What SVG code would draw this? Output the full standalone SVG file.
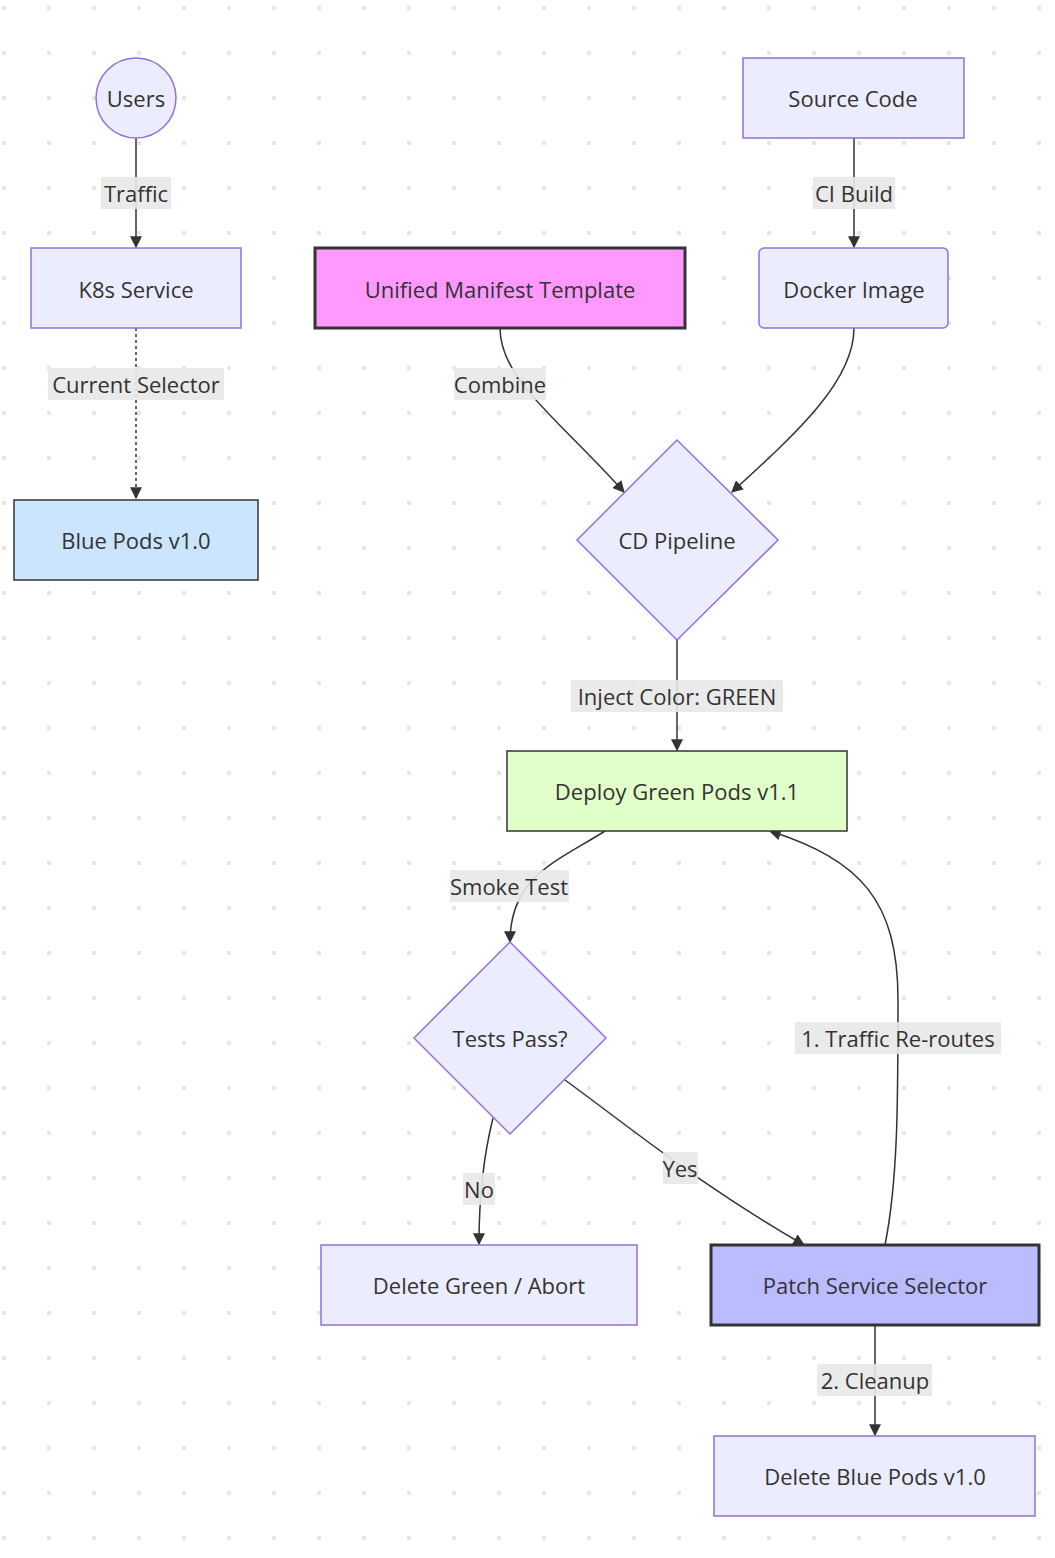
<svg xmlns="http://www.w3.org/2000/svg" width="1055" height="1558" viewBox="0 0 1055 1558">
<defs>
<pattern id="dots" x="2" y="6" width="45" height="45" patternUnits="userSpaceOnUse"><rect width="4" height="4" fill="#e6e6e6"/></pattern>
<marker id="arr" viewBox="0 0 10 10" refX="9" refY="5" markerWidth="8" markerHeight="8" orient="auto-start-reverse" markerUnits="userSpaceOnUse"><path d="M0,0 L10,5 L0,10 z" fill="#333"/></marker>
<marker id="arrb" viewBox="0 0 10 10" refX="9" refY="5" markerWidth="12" markerHeight="12" orient="auto" markerUnits="userSpaceOnUse"><path d="M0,0 L10,5 L0,10 z" fill="#333"/></marker>
</defs>
<style>
text{font-family:"Open Sans","Noto Sans","DejaVu Sans",sans-serif;font-size:22px;fill:#333;text-anchor:middle;dominant-baseline:central}
.n{fill:#ececff;stroke:#9370db;stroke-width:1.5}
.e{fill:none;stroke:#333;stroke-width:1.5;marker-end:url(#arrb)}
.lb{fill:#e8e8e8;opacity:0.9}
</style>
<rect width="1055" height="1558" fill="#fff"/>
<rect width="1055" height="1558" fill="url(#dots)"/>
<g id="connectors">
<path class="e" d="M136,138 L136,247"/>
<path class="e" d="M136,328 L136,498" stroke-dasharray="3,3"/>
<path class="e" d="M854,138 L854,247"/>
<path class="e" d="M500,328 C500,380 560,420 624,492"/>
<path class="e" d="M854,328 C854,380 800,430 732,492"/>
<path class="e" d="M677,640 L677,750"/>
<path class="e" d="M605,831 C560,860 510,875 510,942"/>
<path class="e" d="M493,1118 C485,1150 479,1190 479,1244"/>
<path class="e" d="M565,1080 C640,1135 700,1185 804,1245"/>
<path class="e" d="M885,1245 C898,1180 898,1100 898,1000 C898,900 860,860 770,831"/>
<path class="e" d="M875,1325 L875,1435"/>
<rect class="lb" x="101" y="177" width="70" height="32"/><text x="136" y="193">Traffic</text>
<rect class="lb" x="48" y="368" width="176" height="32"/><text x="136" y="384">Current Selector</text>
<rect class="lb" x="813" y="177" width="82" height="32"/><text x="854" y="193">CI Build</text>
<rect class="lb" x="454" y="368" width="92" height="32"/><text x="500" y="384">Combine</text>
<rect class="lb" x="571" y="680" width="212" height="32"/><text x="677" y="696">Inject Color: GREEN</text>
<rect class="lb" x="450" y="870" width="119" height="32"/><text x="509" y="886">Smoke Test</text>
<rect class="lb" x="463" y="1173" width="32" height="32"/><text x="479" y="1189">No</text>
<rect class="lb" x="663" y="1152" width="35" height="32"/><text x="680" y="1168">Yes</text>
<rect class="lb" x="795" y="1022" width="206" height="32"/><text x="898" y="1038">1. Traffic Re-routes</text>
<rect class="lb" x="817" y="1364" width="115" height="32"/><text x="875" y="1380">2. Cleanup</text>
</g>
<g id="users"><circle class="n" cx="136" cy="98" r="40"/><text x="136" y="98">Users</text></g>
<g id="k8s"><rect class="n" x="31" y="248" width="210" height="80"/><text x="136" y="289">K8s Service</text></g>
<g id="blue"><rect x="14" y="500" width="244" height="80" fill="#cce5ff" stroke="#333" stroke-width="1.5"/><text x="136" y="540">Blue Pods v1.0</text></g>
<g id="source"><rect class="n" x="743" y="58" width="221" height="80"/><text x="853" y="98">Source Code</text></g>
<g id="docker"><rect class="n" x="759" y="248" width="189" height="80" rx="5"/><text x="854" y="289">Docker Image</text></g>
<g id="manifest"><rect x="315" y="248" width="370" height="80" fill="#f9f" stroke="#333" stroke-width="3"/><text x="500" y="289">Unified Manifest Template</text></g>
<g id="cd"><polygon class="n" points="677,440 778,540 677,640 577,540"/><text x="677" y="540">CD Pipeline</text></g>
<g id="green"><rect x="507" y="751" width="340" height="80" fill="#e1ffc8" stroke="#333" stroke-width="1.5"/><text x="677" y="791">Deploy Green Pods v1.1</text></g>
<g id="tests"><polygon class="n" points="510,942 606,1038 510,1134 414,1038"/><text x="510" y="1038">Tests Pass?</text></g>
<g id="delgreen"><rect class="n" x="321" y="1245" width="316" height="80"/><text x="479" y="1285">Delete Green / Abort</text></g>
<g id="patch"><rect x="711" y="1245" width="328" height="80" fill="#bbf" stroke="#333" stroke-width="3"/><text x="875" y="1285">Patch Service Selector</text></g>
<g id="delblue"><rect class="n" x="714" y="1436" width="321" height="80"/><text x="875" y="1476">Delete Blue Pods v1.0</text></g>
</svg>
